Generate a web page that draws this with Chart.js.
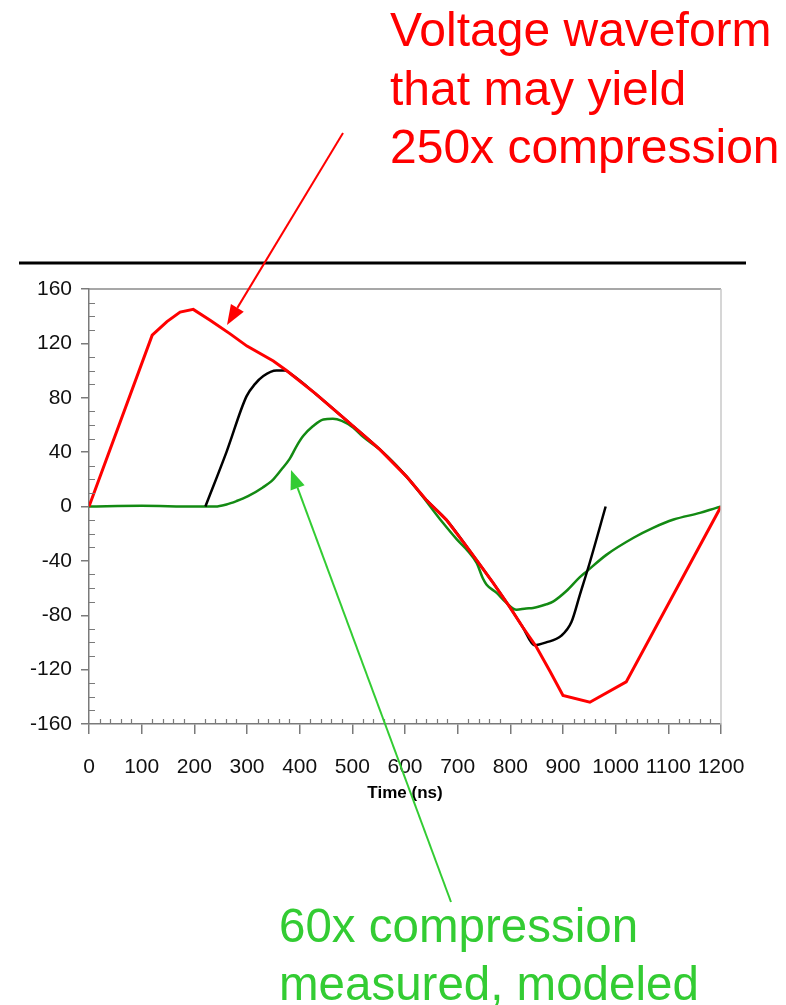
<!DOCTYPE html>
<html>
<head>
<meta charset="utf-8">
<script src="https://cdn.jsdelivr.net/npm/chart.js@4.4.0/dist/chart.umd.min.js"></script>
<style>
  html, body { margin: 0; padding: 0; background: #fff; }
  #wave { display: block; }
</style>
</head>
<body>
<canvas id="wave" width="786" height="1005"></canvas>
<script>
// values (time in ns, voltage)
let red_time  = [0, 120, 148, 173, 198, 230, 268, 300, 350, 375, 430, 496, 552, 603, 640, 679, 720, 767, 799, 824, 849, 875, 900, 951, 1020, 1200];
let red_volt  = [0, 126, 136, 143, 145, 137, 127, 118, 107, 100, 83, 61, 42, 22, 5, -10, -31, -56, -74, -89, -103, -121, -139, -144, -129, 0];

let black_time = [221, 261, 299, 315, 331, 356, 372, 385, 430, 496, 552, 603, 640, 679, 720, 767, 799, 824, 846, 868, 897, 916, 932, 951, 981];
let black_volt = [0, 40, 81, 90, 96, 100, 100, 97, 83, 61, 42, 22, 5, -10, -31, -56, -74, -89, -102, -100, -95, -85, -65, -41, 0];

let green_time = [0, 100, 200, 240, 261, 280, 302, 330, 350, 365, 381, 395, 407, 425, 445, 463, 480, 502, 521, 552, 584, 620, 672, 698, 720, 736, 748, 755, 774, 790, 812, 830, 843, 868, 881, 907, 932, 945, 983, 1034, 1071, 1110, 1160, 1191, 1200];
let green_volt = [0, 0.5, 0, 0, 1.5, 4, 7.6, 14, 20, 27, 35, 45, 52, 59, 64, 64.5, 63, 58, 51, 42, 30, 14, -12, -24, -33, -41.5, -53, -57.5, -63.6, -70, -76, -75, -74.7, -72, -70, -62, -52, -47.7, -35.4, -23, -15.7, -9.6, -4.7, -1, 0];

let x_ticks_major = 100, x_ticks_minor = 20;
let y_ticks_major = 40,  y_ticks_minor = 10;

let red_note = ["Voltage waveform", "that may yield", "250x compression"];
let green_note = ["60x compression", "measured, modeled"];

function to_points(xs, ys) {
    return xs.map(function (x, i) { return {x: x, y: ys[i]}; });
}

const text_font = "'Liberation Sans', Arial, sans-serif";

function arrow(ctx, x0, y0, x1, y1, color, head_len, head_w) {
    let ang = Math.atan2(y1 - y0, x1 - x0);
    let bx = x1 - head_len * Math.cos(ang), by = y1 - head_len * Math.sin(ang);
    ctx.strokeStyle = color;
    ctx.fillStyle = color;
    ctx.lineWidth = 2;
    ctx.beginPath();
    ctx.moveTo(x0, y0);
    ctx.lineTo(bx, by);
    ctx.stroke();
    ctx.beginPath();
    ctx.moveTo(x1, y1);
    ctx.lineTo(bx + head_w / 2 * Math.sin(ang), by - head_w / 2 * Math.cos(ang));
    ctx.lineTo(bx - head_w / 2 * Math.sin(ang), by + head_w / 2 * Math.cos(ang));
    ctx.closePath();
    ctx.fill();
}

// minor ticks, frame and the slide notes
const extras = {
    id: "extras",
    afterDraw: function (chart) {
        let ctx = chart.ctx, area = chart.chartArea;
        let xs = chart.scales.x, ys = chart.scales.y;
        ctx.save();

        // frame top + right
        ctx.lineWidth = 1.5;
        ctx.strokeStyle = "#8a8a8a";
        ctx.beginPath();
        ctx.moveTo(area.left, area.top);
        ctx.lineTo(area.right, area.top);
        ctx.stroke();
        ctx.strokeStyle = "#c8c8c8";
        ctx.beginPath();
        ctx.moveTo(area.right, area.top);
        ctx.lineTo(area.right, area.bottom);
        ctx.stroke();

        // minor ticks pointing inward
        ctx.strokeStyle = "#7a7a7a";
        ctx.lineWidth = 1.2;
        ctx.beginPath();
        for (let t = xs.min; t <= xs.max; t += x_ticks_minor) {
            if (t % x_ticks_major === 0) continue;
            let px = Math.round(xs.getPixelForValue(t)) + 0.5;
            ctx.moveTo(px, area.bottom);
            ctx.lineTo(px, area.bottom - 5);
        }
        for (let v = ys.min; v <= ys.max; v += y_ticks_minor) {
            if (v % y_ticks_major === 0) continue;
            let py = Math.round(ys.getPixelForValue(v)) + 0.5;
            ctx.moveTo(area.left, py);
            ctx.lineTo(area.left + 6, py);
        }
        ctx.stroke();

        // rule across the slide
        ctx.strokeStyle = "#000";
        ctx.lineWidth = 3;
        ctx.beginPath();
        ctx.moveTo(19, 263);
        ctx.lineTo(746, 263);
        ctx.stroke();

        // notes
        ctx.textBaseline = "alphabetic";
        ctx.textAlign = "left";
        ctx.font = "48px " + text_font;
        ctx.fillStyle = "#ff0000";
        red_note.forEach(function (s, i) { ctx.fillText(s, 390, 46 + i * 58.5); });
        ctx.font = "47.5px " + text_font;
        ctx.fillStyle = "#33cc33";
        green_note.forEach(function (s, i) { ctx.fillText(s, 279, 942 + i * 58); });

        arrow(ctx, 343, 133, 227, 325, "#ff0000", 20, 15);
        arrow(ctx, 451, 902, 291, 470, "#33cc33", 19, 15);

        ctx.restore();
    }
};

var ctx = document.getElementById("wave").getContext("2d");
var config = {
    type: "line",
    data: {
        datasets: [
            {
                label: "red",
                data: to_points(red_time, red_volt),
                borderColor: "#ff0000",
                borderWidth: 3,
                pointRadius: 0,
                tension: 0,
                fill: false
            },
            {
                label: "black",
                data: to_points(black_time, black_volt),
                borderColor: "#000000",
                borderWidth: 2.5,
                pointRadius: 0,
                cubicInterpolationMode: "monotone",
                fill: false
            },
            {
                label: "green",
                data: to_points(green_time, green_volt),
                borderColor: "#138a13",
                borderWidth: 2.5,
                pointRadius: 0,
                cubicInterpolationMode: "monotone",
                fill: false
            }
        ]
    },
    options: {
        responsive: false,
        animation: false,
        layout: {
            padding: {left: 0, right: 65, top: 289, bottom: 201}
        },
        plugins: {
            legend: {display: false},
            tooltip: {enabled: false},
            title: {display: false}
        },
        scales: {
            x: {
                type: "linear",
                min: 0,
                max: 1200,
                ticks: {
                    stepSize: x_ticks_major,
                    autoSkip: false,
                    maxRotation: 0,
                    padding: 21,
                    color: "#111",
                    font: {family: text_font, size: 21},
                    callback: function (v) { return String(v); }
                },
                grid: {drawOnChartArea: false, drawTicks: true, tickLength: 10, color: "#7a7a7a", lineWidth: 1.5},
                border: {color: "#7a7a7a", width: 1.5},
                title: {
                    display: true,
                    text: "Time (ns)",
                    color: "#000",
                    padding: {top: 0, bottom: 0},
                    font: {family: text_font, size: 17, weight: "bold"}
                },
                afterFit: function (scale) { scale.height = 80; }
            },
            y: {
                min: -160,
                max: 160,
                ticks: {
                    stepSize: y_ticks_major,
                    padding: 9,
                    color: "#111",
                    font: {family: text_font, size: 21},
                    callback: function (v) { return String(v); }
                },
                grid: {drawOnChartArea: false, drawTicks: true, tickLength: 8, color: "#7a7a7a", lineWidth: 1.5},
                border: {color: "#7a7a7a", width: 1.5},
                afterFit: function (scale) { scale.width = 89; }
            }
        }
    },
    plugins: [extras]
};

// plot chart
new Chart(ctx, config);
</script>
</body>
</html>
